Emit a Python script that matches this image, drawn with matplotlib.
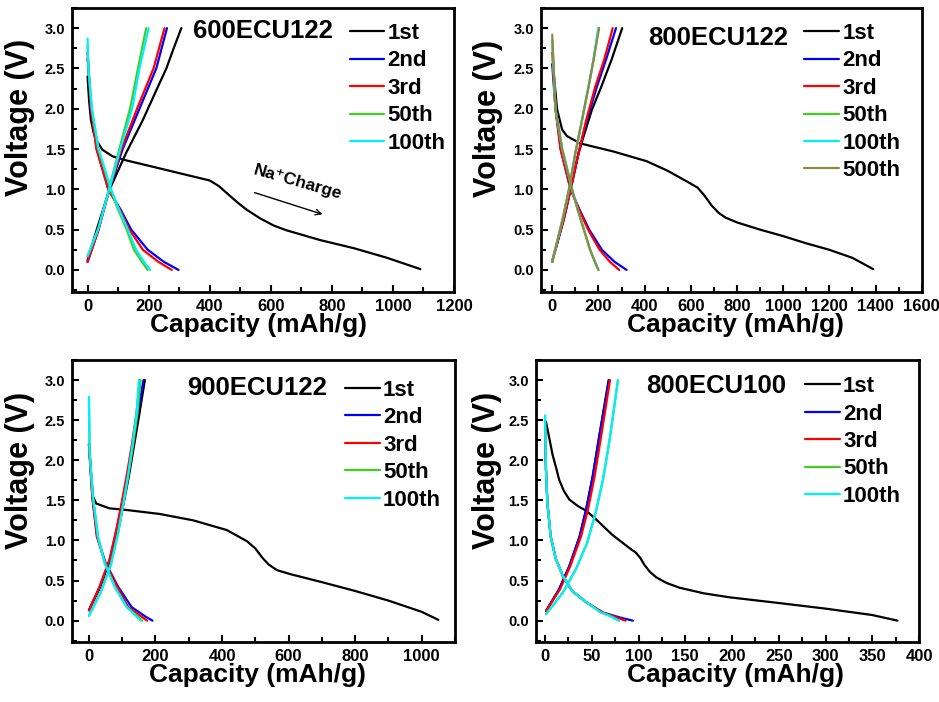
import matplotlib
matplotlib.use("Agg")
import matplotlib.pyplot as plt
from matplotlib.ticker import MultipleLocator

plt.rcParams['font.family'] = ['Liberation Sans', 'DejaVu Sans']
plt.rcParams['font.weight'] = 'bold'

# ---------------- data ----------------
cycle_labels = ["1st", "2nd", "3rd", "50th", "100th", "500th"]
cycle_colors = ["#000000", "#0000FF", "#FF0000", "#44CC22", "#00F0FF", "#8C8C45"]

# Panel A: 600ECU122
a_dis_cap = {
    "1st": [0, 5, 11, 20, 28, 49, 82, 126, 236, 345, 400, 430, 460, 490, 520, 565, 610, 653, 762, 872, 981, 1090],
    "2nd": [0, 3, 11, 30, 68, 108, 143, 197, 250, 298],
    "3rd": [0, 3, 11, 29, 68, 105, 137, 181, 232, 276],
    "50th": [0, 3, 14, 35, 75, 100, 128, 152, 178, 197],
    "100th": [0, 3, 14, 36, 77, 103, 132, 159, 185, 205],
}
a_dis_v = {
    "1st": [2.40, 2.10, 1.86, 1.70, 1.61, 1.49, 1.41, 1.36, 1.26, 1.16, 1.11, 1.04, 0.94, 0.84, 0.75, 0.64, 0.55, 0.49, 0.37, 0.27, 0.15, 0.01],
    "2nd": [2.62, 2.5, 2.0, 1.5, 1.0, 0.75, 0.5, 0.25, 0.1, 0.0],
    "3rd": [2.70, 2.5, 2.0, 1.5, 1.0, 0.75, 0.5, 0.25, 0.1, 0.0],
    "50th": [2.78, 2.5, 2.0, 1.5, 1.0, 0.75, 0.5, 0.25, 0.1, 0.0],
    "100th": [2.87, 2.5, 2.0, 1.5, 1.0, 0.75, 0.5, 0.25, 0.1, 0.0],
}
a_chg_cap = {
    "1st": [0, 30, 71, 126, 181, 236, 258, 280, 307],
    "2nd": [0, 36, 71, 115, 170, 225, 260],
    "3rd": [0, 36, 71, 111, 162, 216, 252],
    "50th": [0, 36, 70, 104, 139, 165, 192],
    "100th": [0, 36, 71, 107, 146, 170, 200],
}
a_chg_v = {
    "1st": [0.12, 0.50, 0.99, 1.45, 1.86, 2.32, 2.50, 2.73, 3.0],
    "2nd": [0.10, 0.5, 1.0, 1.5, 2.0, 2.5, 3.0],
    "3rd": [0.10, 0.5, 1.0, 1.5, 2.0, 2.5, 3.0],
    "50th": [0.17, 0.52, 1.0, 1.5, 2.0, 2.5, 3.0],
    "100th": [0.17, 0.52, 1.0, 1.5, 2.0, 2.5, 3.0],
}

# Panel B: 800ECU122
b_dis_cap = {
    "1st": [0, 4, 21, 43, 64, 121, 264, 408, 500, 594, 630, 660, 690, 720, 750, 800, 900, 1000, 1100, 1200, 1300, 1390],
    "2nd": [0, 14, 36, 79, 118, 160, 215, 270, 322],
    "3rd": [0, 14, 36, 80, 116, 155, 205, 250, 290],
    "50th": [0, 14, 43, 86, 110, 137, 164, 185, 200],
    "100th": [0, 14, 43, 86, 110, 137, 164, 185, 200],
    "500th": [0, 14, 43, 86, 110, 137, 164, 185, 200],
}
b_dis_v = {
    "1st": [2.55, 2.52, 1.99, 1.74, 1.66, 1.57, 1.47, 1.35, 1.23, 1.08, 1.02, 0.92, 0.80, 0.71, 0.65, 0.59, 0.50, 0.42, 0.33, 0.25, 0.15, 0.01],
    "2nd": [2.55, 2.0, 1.5, 1.0, 0.75, 0.5, 0.25, 0.1, 0.0],
    "3rd": [2.70, 2.0, 1.5, 1.0, 0.75, 0.5, 0.25, 0.1, 0.0],
    "50th": [2.85, 2.0, 1.5, 1.0, 0.75, 0.5, 0.25, 0.1, 0.0],
    "100th": [2.85, 2.0, 1.5, 1.0, 0.75, 0.5, 0.25, 0.1, 0.0],
    "500th": [2.92, 2.0, 1.5, 1.0, 0.75, 0.5, 0.25, 0.1, 0.0],
}
b_chg_cap = {
    "1st": [0, 3, 50, 81, 114, 136, 172, 212, 257, 303],
    "2nd": [0, 3, 50, 81, 114, 150, 193, 233, 276],
    "3rd": [0, 3, 50, 81, 114, 147, 186, 225, 262],
    "50th": [0, 3, 45, 74, 100, 129, 157, 179, 200],
    "100th": [0, 3, 45, 74, 100, 129, 157, 179, 200],
    "500th": [0, 3, 45, 74, 100, 129, 157, 179, 203],
}
b_chg_v = {
    "1st": [0.10, 0.14, 0.63, 1.02, 1.45, 1.66, 1.99, 2.27, 2.61, 3.0],
    "2nd": [0.10, 0.14, 0.63, 1.02, 1.45, 1.86, 2.27, 2.61, 3.0],
    "3rd": [0.10, 0.14, 0.63, 1.02, 1.45, 1.86, 2.27, 2.61, 3.0],
    "50th": [0.10, 0.14, 0.63, 1.02, 1.45, 1.86, 2.27, 2.61, 3.0],
    "100th": [0.10, 0.14, 0.63, 1.02, 1.45, 1.86, 2.27, 2.61, 3.0],
    "500th": [0.10, 0.14, 0.63, 1.02, 1.45, 1.86, 2.27, 2.61, 3.0],
}

# Panel C: 900ECU122
c_dis_cap = {
    "1st": [0, 8, 12, 22, 62, 113, 213, 314, 414, 475, 500, 520, 540, 565, 605, 700, 800, 900, 1000, 1050],
    "2nd": [0, 10, 24, 50, 88, 128, 170, 191],
    "3rd": [0, 10, 24, 49, 85, 118, 158, 175],
    "50th": [0, 2, 12, 27, 47, 78, 114, 147, 160],
    "100th": [0, 2, 12, 27, 47, 78, 113, 143, 156],
}
c_dis_v = {
    "1st": [2.20, 1.75, 1.55, 1.46, 1.40, 1.38, 1.33, 1.25, 1.13, 0.99, 0.90, 0.79, 0.70, 0.63, 0.58, 0.48, 0.37, 0.25, 0.11, 0.01],
    "2nd": [2.20, 1.55, 1.05, 0.72, 0.42, 0.17, 0.05, 0.0],
    "3rd": [2.20, 1.55, 1.05, 0.72, 0.42, 0.17, 0.05, 0.0],
    "50th": [2.75, 2.1, 1.55, 1.05, 0.72, 0.42, 0.17, 0.05, 0.0],
    "100th": [2.79, 2.1, 1.55, 1.05, 0.72, 0.42, 0.17, 0.05, 0.0],
}
c_chg_cap = {
    "1st": [0, 34, 64, 88, 104, 120, 135, 152, 168],
    "2nd": [0, 32, 62, 83, 99, 115, 131, 147, 164],
    "3rd": [0, 32, 62, 82, 98, 113, 128, 143, 153],
    "50th": [0, 35, 66, 88, 103, 118, 132, 146, 155],
    "100th": [0, 35, 66, 88, 103, 117, 130, 143, 150],
}
c_chg_v = {
    "1st": [0.13, 0.42, 0.76, 1.13, 1.46, 1.80, 2.17, 2.59, 3.0],
    "2nd": [0.13, 0.42, 0.76, 1.13, 1.46, 1.80, 2.17, 2.59, 3.0],
    "3rd": [0.13, 0.42, 0.76, 1.13, 1.46, 1.80, 2.17, 2.59, 3.0],
    "50th": [0.06, 0.35, 0.70, 1.10, 1.45, 1.80, 2.17, 2.59, 3.0],
    "100th": [0.06, 0.35, 0.70, 1.10, 1.45, 1.80, 2.17, 2.59, 3.0],
}

# Panel D: 800ECU100
d_dis_cap = {
    "1st": [1, 5, 8, 12, 15, 20, 26, 35, 44, 53, 62, 72, 83, 92, 97, 102, 106, 112, 119, 130, 144, 170, 198, 250, 300, 350, 377],
    "2nd": [0, 1, 2.5, 6, 11.5, 19, 29, 44, 62, 80, 94],
    "3rd": [0, 1, 2.5, 6, 11.5, 19, 29, 44, 62, 76, 86],
    "50th": [0, 1, 2.5, 6, 11.5, 19, 29, 44, 60, 69, 79],
    "100th": [0, 1, 2.5, 6, 11.5, 19, 29, 44, 60, 69, 79],
}
d_dis_v = {
    "1st": [2.48, 2.25, 2.07, 1.90, 1.76, 1.62, 1.51, 1.43, 1.37, 1.28, 1.18, 1.07, 0.97, 0.89, 0.85, 0.78, 0.70, 0.61, 0.54, 0.47, 0.41, 0.34, 0.29, 0.22, 0.15, 0.07, 0.0],
    "2nd": [2.40, 1.88, 1.47, 1.05, 0.77, 0.56, 0.37, 0.23, 0.10, 0.04, 0.0],
    "3rd": [2.40, 1.88, 1.47, 1.05, 0.77, 0.56, 0.37, 0.23, 0.10, 0.04, 0.0],
    "50th": [2.50, 1.88, 1.47, 1.05, 0.77, 0.56, 0.37, 0.23, 0.10, 0.06, 0.0],
    "100th": [2.56, 1.88, 1.47, 1.05, 0.77, 0.56, 0.37, 0.23, 0.10, 0.06, 0.0],
}
d_chg_cap = {
    "1st": [1, 15, 26, 37, 44, 51, 58, 68],
    "2nd": [1, 15, 26, 37, 44, 51, 58, 68.5],
    "3rd": [1, 16, 27, 38.5, 46, 53, 60, 69.5],
    "50th": [1, 19, 33, 45, 54, 62, 69, 78],
    "100th": [1, 19, 33, 45, 54, 62, 69, 78],
}
d_chg_v = {
    "1st": [0.12, 0.39, 0.68, 1.05, 1.39, 1.80, 2.30, 3.0],
    "2nd": [0.12, 0.39, 0.68, 1.05, 1.39, 1.80, 2.30, 3.0],
    "3rd": [0.12, 0.39, 0.68, 1.05, 1.39, 1.80, 2.30, 3.0],
    "50th": [0.08, 0.35, 0.64, 0.97, 1.34, 1.76, 2.25, 3.0],
    "100th": [0.08, 0.35, 0.64, 0.97, 1.34, 1.76, 2.25, 3.0],
}

panel_titles = ["600ECU122", "800ECU122", "900ECU122", "800ECU100"]
x_limits = [(-50, 1200), (-50, 1600), (-50, 1100), (-10, 400)]
x_major = [200, 200, 200, 50]
x_minor = [100, 100, 100, 25]
y_ticks = [0.0, 0.5, 1.0, 1.5, 2.0, 2.5, 3.0]

W, H = 939, 702
fig = plt.figure(figsize=(W / 100, H / 100), dpi=100)


def box(l, t, r, b):
    return [l / W, 1 - b / H, (r - l) / W, (b - t) / H]


axes_px = [(72.3, 8, 454, 291.7), (540.7, 8, 921.7, 291.7),
           (72.3, 360, 455, 642.3), (535.7, 360, 919, 642.3)]
title_pos = [(0.316, 0.92), (0.282, 0.894), (0.30, 0.90), (0.288, 0.907)]
legend_pos = [(0.727, 0.947), (0.692, 0.947), (0.713, 0.93), (0.703, 0.943)]
ylabel_pos = [(-0.097, 0.616), (-0.099, 0.612), (-0.097, 0.61), (-0.087, 0.61)]
xlabel_pos = [(0.488, -0.075), (0.51, -0.075), (0.485, -0.073), (0.52, -0.073)]

panels = [
    (a_dis_cap, a_dis_v, a_chg_cap, a_chg_v),
    (b_dis_cap, b_dis_v, b_chg_cap, b_chg_v),
    (c_dis_cap, c_dis_v, c_chg_cap, c_chg_v),
    (d_dis_cap, d_dis_v, d_chg_cap, d_chg_v),
]

axes = []
for i, (dc, dv, cc, cv) in enumerate(panels):
    ax = fig.add_axes(box(*axes_px[i]))
    axes.append(ax)
    handles = []
    for lab, col in zip(cycle_labels, cycle_colors):
        if lab not in dc:
            continue
        h, = ax.plot(dc[lab], dv[lab], color=col, lw=1.6, label=lab,
                     solid_joinstyle='round', solid_capstyle='round')
        ax.plot(cc[lab], cv[lab], color=col, lw=1.6,
                solid_joinstyle='round', solid_capstyle='round')
        handles.append(h)
    ax.set_xlim(*x_limits[i])
    ax.set_ylim(-0.27, 3.25)
    ax.set_yticks(y_ticks)
    ax.yaxis.set_minor_locator(MultipleLocator(0.25))
    ax.xaxis.set_major_locator(MultipleLocator(x_major[i]))
    ax.xaxis.set_minor_locator(MultipleLocator(x_minor[i]))
    ax.set_yticklabels([f"{v:.1f}" for v in y_ticks])
    ax.tick_params(which='both', direction='in', top=False, right=False, width=1.5)
    ax.tick_params(which='major', length=5)
    ax.tick_params(which='minor', length=3.5)
    ax.tick_params(axis='x', labelsize=12, pad=5)
    ax.tick_params(axis='y', labelsize=10.5, pad=5)
    for s in ax.spines.values():
        s.set_linewidth(2.0)
    ax.set_xlabel("Capacity (mAh/g)", fontsize=19, fontweight='bold')
    ax.set_ylabel("Voltage (V)", fontsize=22, fontweight='bold')
    ax.xaxis.set_label_coords(*xlabel_pos[i])
    ax.yaxis.set_label_coords(*ylabel_pos[i])
    ax.text(title_pos[i][0], title_pos[i][1], panel_titles[i], transform=ax.transAxes,
            fontsize=18.5, fontweight='bold', ha='left', va='center')
    ax.legend(handles=handles, loc='upper left', bbox_to_anchor=legend_pos[i],
              frameon=False, handlelength=1.55, handletextpad=0.15,
              labelspacing=0.29, borderaxespad=0, borderpad=0,
              prop={'weight': 'bold', 'size': 16})
    if i == 0:
        ax.annotate("", xy=(778, 0.68), xytext=(538, 0.97),
                    arrowprops=dict(arrowstyle='->', color='black', lw=1.0))
        ax.text(690, 1.09, "Na\u207aCharge", fontsize=12.5, fontweight='bold',
                rotation=-16, ha='center', va='center', rotation_mode='anchor')

fig.canvas.draw()
for ax in axes:
    for lbl in ax.get_xticklabels() + ax.get_yticklabels():
        lbl.set_fontweight('bold')

fig.savefig("out.png", dpi=100)
